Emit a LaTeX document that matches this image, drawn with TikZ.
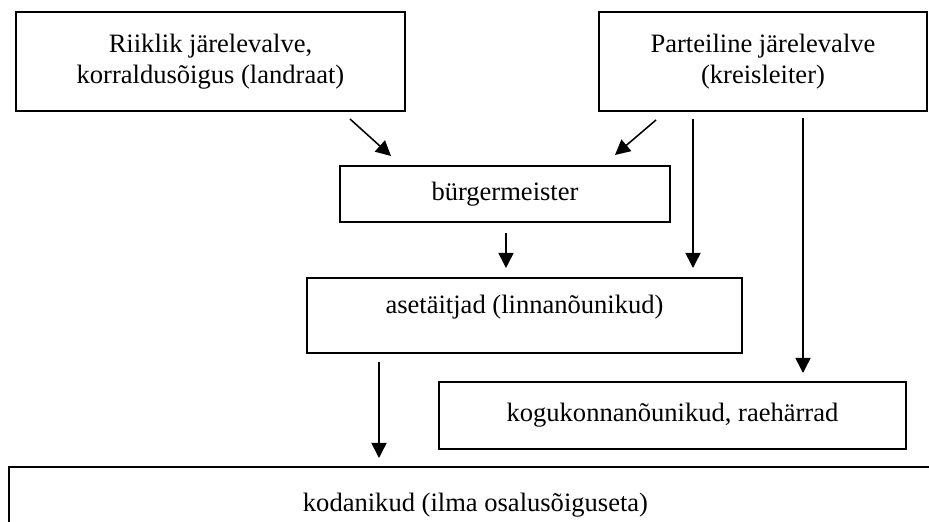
\documentclass[tikz,border=0pt]{standalone}
\usepackage{fontspec}
\setmainfont{Liberation Serif}
\usetikzlibrary{calc, arrows.meta}

\tikzset{
	box/.style={draw, rectangle, line width=0.9pt, align=center, inner sep=0pt, font=\fontsize{12pt}{13.8pt}\selectfont},
	arr/.style={line width=0.7pt, -{Triangle[length=6.8pt, width=6.8pt]}}
}

\begin{document}
\begin{tikzpicture}[x=0.452pt, y=-0.452pt]
	\def\px{0.452pt};

	\useasboundingbox (0,0) rectangle (929,522);

	\begin{scope}
		\node[box, minimum width=389*\px, minimum height=99*\px] (riik) at (210.5,61.5) {Riiklik järelevalve,\\korraldusõigus (landraat)};
		\node[box, minimum width=328*\px, minimum height=99*\px] (partei) at (763,61.5) {Parteiline järelevalve\\(kreisleiter)};
	\end{scope}

	\begin{scope}
		\node[box, minimum width=330*\px, minimum height=56*\px] (burg) at (505,194) {bürgermeister};
		\node[box, minimum width=435*\px, minimum height=75*\px, text depth=22*\px] (asetaitjad) at (524.5,315.5) {asetäitjad (linnanõunikud)};
		\node[box, minimum width=467*\px, minimum height=67*\px] (kogukond) at (672.5,415.5) {kogukonnanõunikud, raehärrad};
		\node[box, minimum width=933*\px, minimum height=76*\px] (kodanikud) at (475.5,505) {kodanikud (ilma osalusõiguseta)};
	\end{scope}

	\begin{scope}[arr]
		\draw ($(riik.south east)+(-56,7)$) -- ($(burg.north west)+(52,-9)$);
		\draw ($(partei.south west)+(58,8)$) -- ($(burg.north east)+(-56,-10)$);
		\draw ($(burg.south)+(1,10)$) -- ($(asetaitjad.north)+(-18.5,-9)$);
		\draw ($(partei.south)+(-70,7)$) -- ($(asetaitjad.north)+(168.5,-9)$);
		\draw ($(partei.south)+(40,6)$) -- ($(kogukond.north)+(130.5,-8)$);
		\draw ($(asetaitjad.south)+(-145.5,8)$) -- ($(kodanikud.north)+(-96.5,-8)$);
	\end{scope}
\end{tikzpicture}
\end{document}
